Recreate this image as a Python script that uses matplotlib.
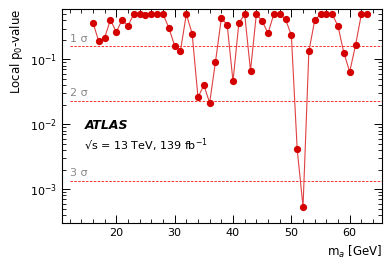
import numpy as np
import matplotlib
matplotlib.use("Agg")
import matplotlib.pyplot as plt
from matplotlib.ticker import MultipleLocator, LogLocator, NullFormatter

mass = list(range(16, 64))
p0 = [0.37, 0.19, 0.215, 0.41, 0.263, 0.41, 0.33, 0.5, 0.5, 0.49,
      0.5, 0.5, 0.5, 0.31, 0.162, 0.136, 0.5, 0.25, 0.026, 0.040,
      0.0215, 0.092, 0.43, 0.345, 0.046, 0.36, 0.5, 0.067, 0.5, 0.39,
      0.254, 0.5, 0.5, 0.417, 0.236, 0.0041, 0.000535, 0.133, 0.40, 0.5,
      0.5, 0.5, 0.325, 0.126, 0.0645, 0.166, 0.5, 0.5]
sigma_labels = ["1 σ", "2 σ", "3 σ"]
sigma_p = [0.1587, 0.02275, 0.00135]

fig = plt.figure(figsize=(3.9, 2.64), dpi=100)
ax = fig.add_axes([0.159, 0.155, 0.820, 0.811])

red = "#d40000"
ax.plot(mass, p0, color="#e04040", lw=0.8, marker="o", ms=4.2,
        mfc=red, mec=red, zorder=3)

for lab, p in zip(sigma_labels, sigma_p):
    ax.plot([12, 65.5], [p, p], color="#ff3030", lw=0.7, ls=(0, (2.5, 1.5)), zorder=2)
    ax.text(12.0, p * 1.1, lab, color="#888888", fontsize=8, ha="left", va="bottom")

ax.set_yscale("log")
ax.set_xlim(10.7, 65.5)
ax.set_ylim(3e-4, 0.6)

ax.xaxis.set_major_locator(MultipleLocator(10))
ax.xaxis.set_minor_locator(MultipleLocator(2))
ax.yaxis.set_major_locator(LogLocator(base=10, numticks=10))
ax.yaxis.set_minor_locator(LogLocator(base=10, subs=np.arange(2, 10), numticks=10))
ax.yaxis.set_minor_formatter(NullFormatter())
ax.tick_params(which="both", direction="in", top=True, right=True, labelsize=8)
ax.tick_params(which="major", length=6, width=0.7)
ax.tick_params(which="minor", length=3, width=0.6)
for s in ax.spines.values():
    s.set_linewidth(0.8)

ax.set_ylabel("Local p$_{0}$-value", fontsize=8.5, loc="top")
ax.set_xlabel("m$_{a}$ [GeV]", fontsize=8.5, loc="right")

ax.text(0.07, 0.455, "ATLAS", transform=ax.transAxes, fontsize=9,
        fontweight="bold", fontstyle="italic", va="center")
ax.text(0.07, 0.365, "√s = 13 TeV, 139 fb$^{-1}$", transform=ax.transAxes,
        fontsize=8, va="center")

fig.savefig("out.png", dpi=100)
